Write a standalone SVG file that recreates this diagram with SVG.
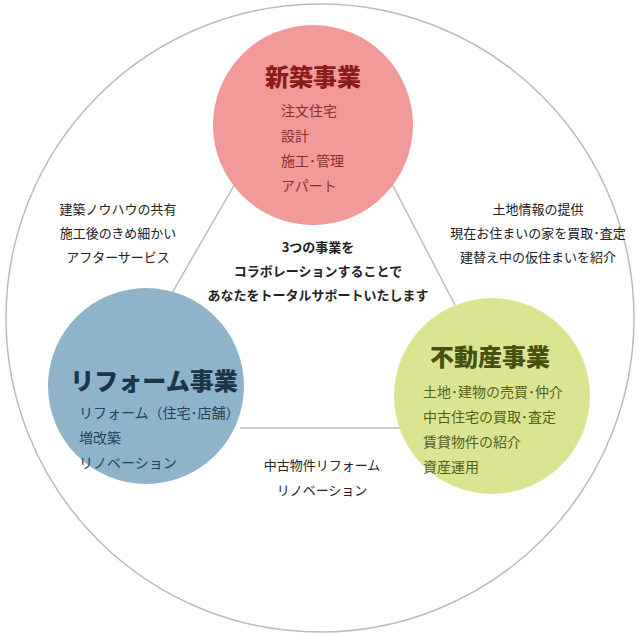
<svg xmlns="http://www.w3.org/2000/svg" width="640" height="636" viewBox="0 0 640 636">
<style>
text{font-family:"Noto Sans CJK JP","Noto Sans",sans-serif;}
.t{font-size:13px;fill:#222;}
.l{font-size:14px;}
.h{font-size:24px;font-weight:900;}
.b{font-size:13px;font-weight:bold;fill:#222;}
</style>
<rect width="640" height="636" fill="#fff"/>
<circle cx="320" cy="318" r="314" fill="#fff" stroke="#bbb" stroke-width="1.5"/>
<g id="connectors" stroke="#bbb" stroke-width="1.5" fill="none">
<line x1="240" y1="175" x2="168" y2="300"/>
<line x1="390" y1="180" x2="455" y2="305"/>
<line x1="240" y1="428" x2="400" y2="428"/>
</g>
<g id="shinchiku">
<circle cx="313" cy="125" r="100" fill="#f29a9a"/>
<text class="h" x="313" y="86" text-anchor="middle" fill="#8c1c1c">新築事業</text>
<text class="l" x="281" y="116" fill="#8a2f2f">注文住宅</text>
<text class="l" x="281" y="141" fill="#8a2f2f">設計</text>
<text class="l" x="281" y="166" fill="#8a2f2f">施工･管理</text>
<text class="l" x="281" y="191" fill="#8a2f2f">アパート</text>
</g>
<g id="reform">
<circle cx="146" cy="386" r="98" fill="#8fb4c9"/>
<text class="h" x="154" y="390" text-anchor="middle" fill="#1e3547">リフォーム事業</text>
<text class="l" x="79" y="418" fill="#24425a">リフォーム（住宅･店舗）</text>
<text class="l" x="79" y="443" fill="#24425a">増改築</text>
<text class="l" x="79" y="468" fill="#24425a">リノベーション</text>
</g>
<g id="fudosan">
<circle cx="492" cy="396" r="98" fill="#dbe591"/>
<text class="h" x="490" y="366" text-anchor="middle" fill="#48500f">不動産事業</text>
<text class="l" x="423" y="397" fill="#55601a">土地･建物の売買･仲介</text>
<text class="l" x="423" y="422" fill="#55601a">中古住宅の買取･査定</text>
<text class="l" x="423" y="447" fill="#55601a">賃貸物件の紹介</text>
<text class="l" x="423" y="472" fill="#55601a">資産運用</text>
</g>
<g id="labels">
<text class="t" x="118" y="214" text-anchor="middle">建築ノウハウの共有</text>
<text class="t" x="118" y="238" text-anchor="middle">施工後のきめ細かい</text>
<text class="t" x="118" y="262" text-anchor="middle">アフターサービス</text>
<text class="t" x="538" y="214" text-anchor="middle">土地情報の提供</text>
<text class="t" x="538" y="238" text-anchor="middle">現在お住まいの家を買取･査定</text>
<text class="t" x="538" y="262" text-anchor="middle">建替え中の仮住まいを紹介</text>
<text class="b" x="318" y="252" text-anchor="middle">3つの事業を</text>
<text class="b" x="318" y="276" text-anchor="middle">コラボレーションすることで</text>
<text class="b" x="318" y="300" text-anchor="middle">あなたをトータルサポートいたします</text>
<text class="t" x="322" y="470" text-anchor="middle">中古物件リフォーム</text>
<text class="t" x="322" y="495" text-anchor="middle">リノベーション</text>
</g>
</svg>
